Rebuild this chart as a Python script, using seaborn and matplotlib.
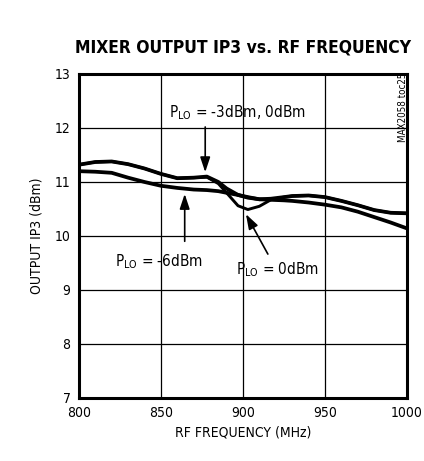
import pandas as pd
import matplotlib
matplotlib.use("Agg")
import matplotlib.pyplot as plt
import seaborn as sns

# RF frequency (MHz) and output IP3 (dBm)
freq = [800, 810, 820, 830, 840, 850, 860, 870, 878, 885, 890, 897, 903, 910, 917,
        925, 930, 940, 950, 960, 970, 980, 990, 1000]
ip3_m3 = [11.32, 11.37, 11.38, 11.33, 11.25, 11.15, 11.07, 11.08, 11.10, 11.00, 10.88,
          10.76, 10.71, 10.68, 10.69, 10.72, 10.74, 10.75, 10.72, 10.65, 10.57, 10.48,
          10.43, 10.42]
ip3_0 = [11.32, 11.37, 11.38, 11.33, 11.25, 11.15, 11.07, 11.08, 11.09, 10.97, 10.80,
         10.56, 10.49, 10.55, 10.67, 10.72, 10.74, 10.75, 10.72, 10.65, 10.57, 10.48,
         10.43, 10.42]
ip3_m6 = [11.20, 11.19, 11.17, 11.08, 11.00, 10.93, 10.89, 10.86, 10.85, 10.83, 10.80,
          10.76, 10.72, 10.68, 10.67, 10.66, 10.65, 10.62, 10.58, 10.53, 10.45, 10.35,
          10.25, 10.14]

series = {"-3dBm": ip3_m3, "0dBm": ip3_0, "-6dBm": ip3_m6}
df = pd.concat([pd.DataFrame({"freq": freq, "ip3": v, "plo": k}) for k, v in series.items()])

sns.set_style("white")
plt.rcParams["font.family"] = ["DejaVu Sans"]
plt.rcParams["font.stretch"] = "condensed"
for key in ["text.color", "axes.labelcolor", "xtick.color", "ytick.color"]:
    plt.rcParams[key] = "black"

fig = plt.figure(figsize=(4.24, 4.61), dpi=100)
ax = fig.add_axes([0.186, 0.1367, 0.774, 0.7028])

sns.lineplot(data=df, x="freq", y="ip3", units="plo", estimator=None,
             color="black", linewidth=2.7, ax=ax, legend=False)
# the -6dBm trace is drawn a bit thinner
ax.lines[-1].set_linewidth(2.1)

ax.set_xlim(800, 1000)
ax.set_ylim(7, 13)
ax.set_xticks([800, 850, 900, 950, 1000])
ax.set_yticks(range(7, 14))
ax.grid(True, color="black", linewidth=0.9)
for s in ax.spines.values():
    s.set_linewidth(2.2)
    s.set_color("black")
ax.tick_params(length=0, labelsize=10, pad=6)
ax.set_xlabel("RF FREQUENCY (MHz)", fontsize=10)
ax.set_ylabel("OUTPUT IP3 (dBm)", fontsize=10, labelpad=8)

fig.text(0.573, 0.898, "MIXER OUTPUT IP3 vs. RF FREQUENCY", ha="center", va="center",
         fontsize=12.5, fontweight="heavy")
fig.text(0.951, 0.843, "MAX2058 toc25", rotation=90, ha="center", va="top", fontsize=7)

akw = dict(arrowstyle="-|>,head_length=0.9,head_width=0.3", color="black", lw=1.2)
ax.annotate("", xy=(877, 11.13), xytext=(877, 12.07), arrowprops=akw)
ax.text(896.5, 12.28, r"P$_{\mathregular{LO}}$ = -3dBm, 0dBm", ha="center", va="center",
        fontsize=11)
ax.annotate("", xy=(864.5, 10.83), xytext=(864.5, 9.85), arrowprops=akw)
ax.text(849, 9.52, r"P$_{\mathregular{LO}}$ = -6dBm", ha="center", va="center", fontsize=11)
ax.annotate("", xy=(901, 10.45), xytext=(916, 9.62), arrowprops=akw)
ax.text(921, 9.37, r"P$_{\mathregular{LO}}$ = 0dBm", ha="center", va="center", fontsize=11)

fig.savefig("out.png", dpi=100, facecolor="white")
